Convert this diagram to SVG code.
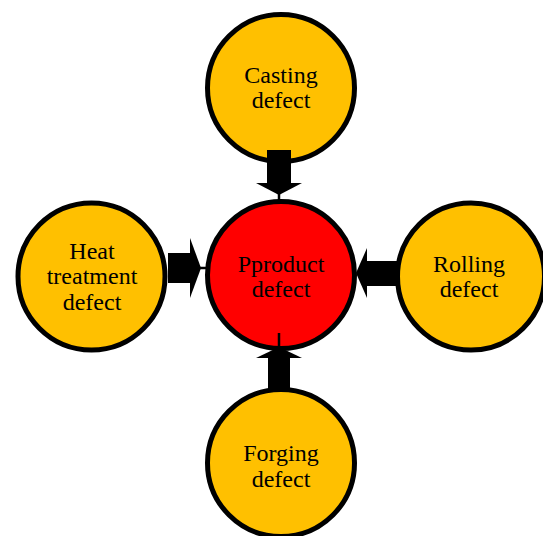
<svg xmlns="http://www.w3.org/2000/svg" width="543" height="536" viewBox="0 0 543 536">
<style>
.n{fill:#FFC000;stroke:#000;stroke-width:5}
.c{fill:#FF0000;stroke:#000;stroke-width:5}
text{font-family:"Liberation Serif","Times New Roman",serif;font-size:24px;fill:#000;text-anchor:middle}
.a{fill:#000}
.l{stroke:#000;stroke-width:2.5}
</style>
<rect width="543" height="536" fill="#fff"/>
<g id="casting"><circle class="n" cx="281" cy="88" r="73.5"/><text x="281" y="83">Casting</text><text x="281" y="108">defect</text></g>
<g id="product"><circle class="c" cx="281" cy="275" r="73.5"/><text x="281" y="272">Pproduct</text><text x="281" y="297">defect</text></g>
<g id="heat"><circle class="n" cx="91.5" cy="276.5" r="73.5"/><text x="92" y="259">Heat</text><text x="92" y="284">treatment</text><text x="92" y="310">defect</text></g>
<g id="rolling"><circle class="n" cx="471" cy="276.5" r="73.5"/><text x="469" y="272">Rolling</text><text x="469" y="297">defect</text></g>
<g id="forging"><circle class="n" cx="281" cy="463" r="73.5"/><text x="281" y="461">Forging</text><text x="281" y="487">defect</text></g>
<g id="connectors">
<rect class="a" x="267" y="150" width="24" height="34"/><polygon class="a" points="256,183 302,183 279,195"/><line class="l" x1="279" y1="194" x2="279" y2="203"/>
<rect class="a" x="168" y="253" width="23" height="30"/><polygon class="a" points="190,238 190,298 201,268"/><line class="l" x1="200" y1="268" x2="207" y2="268"/>
<rect class="a" x="366" y="261" width="34" height="25"/><polygon class="a" points="367,248 367,298 356,273"/>
<rect class="a" x="268" y="356" width="22" height="36"/><polygon class="a" points="256,358 302,358 279,347"/><line class="l" x1="279" y1="348" x2="279" y2="333"/>
</g>
</svg>
